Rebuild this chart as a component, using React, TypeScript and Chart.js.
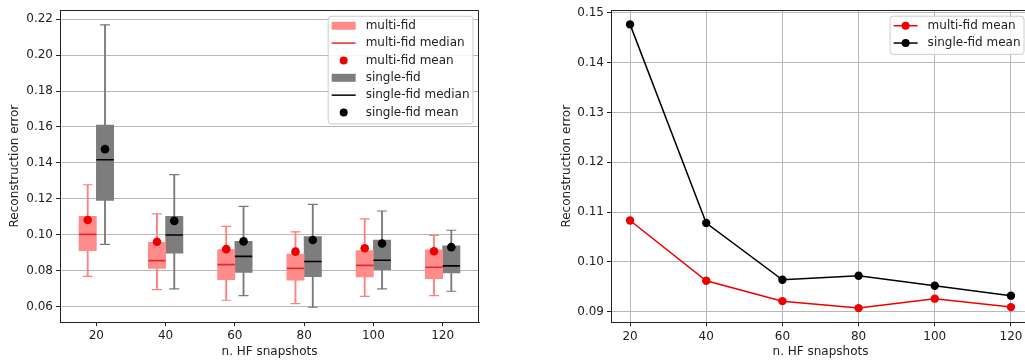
import React, { useEffect, useRef } from "react";
import { Chart, registerables } from "chart.js";

Chart.register(...registerables);

// ---------------- data ----------------
const snapshots = [20, 40, 60, 80, 100, 120];

const multiWhiskerLow = [0.077, 0.0696, 0.0637, 0.0618, 0.0659, 0.0663];
const multiQ1 = [0.0913, 0.0814, 0.0752, 0.0748, 0.0767, 0.0757];
const multiMedian = [0.1003, 0.0857, 0.0835, 0.0814, 0.0831, 0.082];
const multiQ3 = [0.1103, 0.0959, 0.0918, 0.0894, 0.0913, 0.0917];
const multiWhiskerHigh = [0.1279, 0.1117, 0.1048, 0.1017, 0.1089, 0.0998];
const multiMean = [0.1083, 0.0962, 0.0921, 0.0907, 0.0926, 0.0909];

const singleWhiskerLow = [0.0948, 0.07, 0.0663, 0.0598, 0.07, 0.0687];
const singleQ1 = [0.1192, 0.0898, 0.0791, 0.0768, 0.0807, 0.0789];
const singleMedian = [0.1418, 0.1, 0.0881, 0.0852, 0.0859, 0.0828];
const singleQ3 = [0.1611, 0.1103, 0.0964, 0.0991, 0.0972, 0.0939];
const singleWhiskerHigh = [0.2168, 0.1335, 0.1159, 0.117, 0.1133, 0.1026];
const singleMean = [0.1477, 0.1078, 0.0964, 0.0972, 0.0952, 0.0932];

const xTickValues = [20, 40, 60, 80, 100, 120];
const leftYTickValues = [0.06, 0.08, 0.1, 0.12, 0.14, 0.16, 0.18, 0.2, 0.22];
const rightYTickValues = [0.09, 0.1, 0.11, 0.12, 0.13, 0.14, 0.15];

const leftLegendLabels = [
  "multi-fid",
  "multi-fid median",
  "multi-fid mean",
  "single-fid",
  "single-fid median",
  "single-fid mean",
];
const rightLegendLabels = ["multi-fid mean", "single-fid mean"];

const xTitle = "n. HF snapshots";
const yTitle = "Reconstruction error";

// ---------------- style ----------------
const FAMILY = "'DejaVu Sans', 'Liberation Sans', sans-serif";
const FONT = { family: FAMILY, size: 12 };
const TEXT = "#222222";
const GRID = "#b8b8b8";
const RED = "#ee0000";
const MULTI_BOX = "#ff8c8a";
const MULTI_WHISKER = "#ff8080";
const MULTI_MEDIAN = "#e32a2a";
const SINGLE_BOX = "#7d7d7d";
const SINGLE_WHISKER = "#7a7a7a";
const BOX_SHIFT = 2.5;

// ---------------- plugins ----------------
const framePlugin = {
  id: "frame",
  afterDatasetsDraw(chart: any) {
    const { ctx, chartArea: a } = chart;
    ctx.save();
    ctx.strokeStyle = TEXT;
    ctx.lineWidth = 1;
    const l = Math.round(a.left);
    const t = Math.round(a.top) + 0.5;
    const r = Math.round(a.right) - 0.5;
    const b = Math.round(a.bottom);
    ctx.beginPath();
    ctx.moveTo(l, t);
    ctx.lineTo(r, t);
    ctx.lineTo(r, b);
    ctx.stroke();
    ctx.restore();
  },
};

type LegendEntry = { label: string; kind: string; color: string };

function roundRectPath(ctx: any, x: number, y: number, w: number, h: number, r: number) {
  ctx.beginPath();
  ctx.moveTo(x + r, y);
  ctx.lineTo(x + w - r, y);
  ctx.arcTo(x + w, y, x + w, y + r, r);
  ctx.lineTo(x + w, y + h - r);
  ctx.arcTo(x + w, y + h, x + w - r, y + h, r);
  ctx.lineTo(x + r, y + h);
  ctx.arcTo(x, y + h, x, y + h - r, r);
  ctx.lineTo(x, y + r);
  ctx.arcTo(x, y, x + r, y, r);
  ctx.closePath();
}

function makeLegendPlugin(id: string, entries: LegendEntry[]) {
  return {
    id,
    afterDraw(chart: any) {
      const { ctx, chartArea: a } = chart;
      ctx.save();
      ctx.font = `12px ${FAMILY}`;
      const textW = Math.max(...entries.map((e) => ctx.measureText(e.label).width));
      const rowH = 17.35;
      const w = 38 + textW + 3;
      const h = entries.length * rowH + 3.5;
      const right = a.right - 6.5;
      const left = right - w;
      const top = a.top + 5.5;
      roundRectPath(ctx, left + 0.5, top + 0.5, w, h, 3);
      ctx.fillStyle = "rgba(255,255,255,0.85)";
      ctx.fill();
      ctx.strokeStyle = "#cccccc";
      ctx.lineWidth = 1;
      ctx.stroke();
      entries.forEach((e, i) => {
        const cy = top + 10 + i * rowH;
        const hx0 = left + 4;
        const hx1 = left + 28;
        const hc = left + 16;
        if (e.kind === "patch") {
          ctx.fillStyle = e.color;
          ctx.fillRect(hx0, cy - 4, hx1 - hx0, 8);
        }
        if (e.kind === "line" || e.kind === "linedot") {
          ctx.strokeStyle = e.color;
          ctx.lineWidth = 1.5;
          ctx.beginPath();
          ctx.moveTo(hx0, cy);
          ctx.lineTo(hx1, cy);
          ctx.stroke();
        }
        if (e.kind === "dot" || e.kind === "linedot") {
          ctx.fillStyle = e.color;
          ctx.beginPath();
          ctx.arc(hc, cy, 4, 0, Math.PI * 2);
          ctx.fill();
        }
        ctx.fillStyle = TEXT;
        ctx.textBaseline = "middle";
        ctx.textAlign = "left";
        ctx.fillText(e.label, left + 38, cy);
      });
      ctx.restore();
    },
  };
}

// ---------------- helpers ----------------
function axisX(min: number, max: number, height: number, gridOnArea: boolean) {
  return {
    type: "linear",
    min,
    max,
    offset: false,
    afterBuildTicks: (s: any) => {
      s.ticks = xTickValues.map((v) => ({ value: v }));
    },
    afterFit: (s: any) => {
      s.height = height;
    },
    grid: {
      display: true,
      offset: false,
      drawOnChartArea: gridOnArea,
      drawTicks: true,
      tickLength: 4,
      tickColor: TEXT,
      color: GRID,
      lineWidth: 1,
    },
    border: { display: true, color: TEXT, width: 1 },
    ticks: {
      color: TEXT,
      font: FONT,
      padding: 3,
      maxRotation: 0,
      autoSkip: false,
      callback: (v: any) => String(v),
    },
    title: {
      display: true,
      text: xTitle,
      color: TEXT,
      font: FONT,
      padding: { top: 0, bottom: 1 },
    },
  };
}

function axisY(min: number, max: number, ticks: number[], width: number, titlePad: number) {
  return {
    type: "linear",
    min,
    max,
    afterBuildTicks: (s: any) => {
      s.ticks = ticks.map((v) => ({ value: v }));
    },
    afterFit: (s: any) => {
      s.width = width;
    },
    grid: {
      display: true,
      drawTicks: true,
      tickLength: 4,
      tickColor: TEXT,
      color: GRID,
      lineWidth: 1,
    },
    border: { display: true, color: TEXT, width: 1 },
    ticks: {
      color: TEXT,
      font: FONT,
      padding: 3,
      autoSkip: false,
      callback: (v: any) => Number(v).toFixed(2),
    },
    title: {
      display: true,
      text: yTitle,
      color: TEXT,
      font: FONT,
      padding: { top: titlePad, bottom: 0 },
    },
  };
}

// ---------------- left chart ----------------
function BoxChart() {
  const ref = useRef<HTMLCanvasElement>(null);
  useEffect(() => {
    const multiX = snapshots.map((s) => s - BOX_SHIFT);
    const singleX = snapshots.map((s) => s + BOX_SHIFT);
    const barCommon = {
      type: "bar",
      grouped: false,
      barPercentage: 1,
      categoryPercentage: 1,
      borderWidth: 0,
    };
    const datasets: any[] = [
      {
        ...barCommon,
        label: "multi whisker",
        order: 10,
        maxBarThickness: 1.2,
        backgroundColor: MULTI_WHISKER,
        data: multiX.map((x, i) => ({ x, y: [multiWhiskerLow[i], multiWhiskerHigh[i]] })),
      },
      {
        ...barCommon,
        label: "single whisker",
        order: 10,
        maxBarThickness: 1.2,
        backgroundColor: SINGLE_WHISKER,
        data: singleX.map((x, i) => ({ x, y: [singleWhiskerLow[i], singleWhiskerHigh[i]] })),
      },
      {
        ...barCommon,
        label: leftLegendLabels[0],
        order: 8,
        backgroundColor: MULTI_BOX,
        data: multiX.map((x, i) => ({ x, y: [multiQ1[i], multiQ3[i]] })),
      },
      {
        ...barCommon,
        label: leftLegendLabels[3],
        order: 8,
        backgroundColor: SINGLE_BOX,
        data: singleX.map((x, i) => ({ x, y: [singleQ1[i], singleQ3[i]] })),
      },
      {
        type: "scatter",
        label: "multi caps",
        order: 6,
        pointStyle: "line",
        pointRadius: 5,
        pointBorderWidth: 1.2,
        borderColor: MULTI_WHISKER,
        pointBorderColor: MULTI_WHISKER,
        data: multiX.flatMap((x, i) => [
          { x, y: multiWhiskerLow[i] },
          { x, y: multiWhiskerHigh[i] },
        ]),
      },
      {
        type: "scatter",
        label: "single caps",
        order: 6,
        pointStyle: "line",
        pointRadius: 5,
        pointBorderWidth: 1.2,
        borderColor: SINGLE_WHISKER,
        pointBorderColor: SINGLE_WHISKER,
        data: singleX.flatMap((x, i) => [
          { x, y: singleWhiskerLow[i] },
          { x, y: singleWhiskerHigh[i] },
        ]),
      },
      {
        type: "scatter",
        label: leftLegendLabels[1],
        order: 4,
        pointStyle: "line",
        pointRadius: 8.65,
        pointBorderWidth: 1.6,
        borderColor: MULTI_MEDIAN,
        pointBorderColor: MULTI_MEDIAN,
        data: multiX.map((x, i) => ({ x, y: multiMedian[i] })),
      },
      {
        type: "scatter",
        label: leftLegendLabels[4],
        order: 4,
        pointStyle: "line",
        pointRadius: 8.65,
        pointBorderWidth: 1.6,
        borderColor: "#000000",
        pointBorderColor: "#000000",
        data: singleX.map((x, i) => ({ x, y: singleMedian[i] })),
      },
      {
        type: "scatter",
        label: leftLegendLabels[2],
        order: 2,
        pointStyle: "circle",
        pointRadius: 4.3,
        pointBorderWidth: 0,
        backgroundColor: RED,
        pointBackgroundColor: RED,
        data: multiX.map((x, i) => ({ x, y: multiMean[i] })),
      },
      {
        type: "scatter",
        label: leftLegendLabels[5],
        order: 2,
        pointStyle: "circle",
        pointRadius: 4.3,
        pointBorderWidth: 0,
        backgroundColor: "#000000",
        pointBackgroundColor: "#000000",
        data: singleX.map((x, i) => ({ x, y: singleMean[i] })),
      },
    ];
    const legendEntries: LegendEntry[] = [
      { label: leftLegendLabels[0], kind: "patch", color: MULTI_BOX },
      { label: leftLegendLabels[1], kind: "line", color: MULTI_MEDIAN },
      { label: leftLegendLabels[2], kind: "dot", color: RED },
      { label: leftLegendLabels[3], kind: "patch", color: SINGLE_BOX },
      { label: leftLegendLabels[4], kind: "line", color: "#000000" },
      { label: leftLegendLabels[5], kind: "dot", color: "#000000" },
    ];
    const chart = new Chart(ref.current as HTMLCanvasElement, {
      type: "bar",
      data: { datasets },
      options: {
        responsive: false,
        animation: false,
        devicePixelRatio: 1,
        events: [],
        layout: { padding: { top: 9, right: 21, left: 0, bottom: 0 } },
        plugins: { legend: { display: false }, tooltip: { enabled: false } },
        scales: {
          x: axisX(9.5, 130.5, 38, false),
          y: axisY(0.0516, 0.2249, leftYTickValues, 60, 8),
        },
      } as any,
      plugins: [framePlugin, makeLegendPlugin("leftLegend", legendEntries)],
    } as any);
    return () => chart.destroy();
  }, []);
  return (
    <canvas
      ref={ref}
      width={500}
      height={360}
      style={{ position: "absolute", left: 0, top: 0, width: 500, height: 360 }}
    />
  );
}

// ---------------- right chart ----------------
function MeanChart() {
  const ref = useRef<HTMLCanvasElement>(null);
  useEffect(() => {
    const lineCommon = {
      type: "line",
      borderWidth: 1.5,
      pointRadius: 4.2,
      pointBorderWidth: 0,
      tension: 0,
      fill: false,
    };
    const datasets: any[] = [
      {
        ...lineCommon,
        label: rightLegendLabels[0],
        borderColor: RED,
        backgroundColor: RED,
        pointBackgroundColor: RED,
        data: snapshots.map((x, i) => ({ x, y: multiMean[i] })),
      },
      {
        ...lineCommon,
        label: rightLegendLabels[1],
        borderColor: "#000000",
        backgroundColor: "#000000",
        pointBackgroundColor: "#000000",
        data: snapshots.map((x, i) => ({ x, y: singleMean[i] })),
      },
    ];
    const legendEntries: LegendEntry[] = [
      { label: rightLegendLabels[0], kind: "linedot", color: RED },
      { label: rightLegendLabels[1], kind: "linedot", color: "#000000" },
    ];
    const chart = new Chart(ref.current as HTMLCanvasElement, {
      type: "line",
      data: { datasets },
      options: {
        responsive: false,
        animation: false,
        devicePixelRatio: 1,
        events: [],
        layout: { padding: { top: 9.7, right: 10, left: 0, bottom: 0 } },
        plugins: { legend: { display: false }, tooltip: { enabled: false } },
        scales: {
          x: axisX(15, 125, 37.7, true),
          y: axisY(0.08785, 0.15055, rightYTickValues, 61, 9.5),
        },
      } as any,
      plugins: [framePlugin, makeLegendPlugin("rightLegend", legendEntries)],
    } as any);
    return () => chart.destroy();
  }, []);
  return (
    <canvas
      ref={ref}
      width={490}
      height={360}
      style={{ position: "absolute", left: 550, top: 0, width: 490, height: 360 }}
    />
  );
}

export default function App() {
  return (
    <div
      style={{
        position: "fixed",
        left: 0,
        top: 0,
        width: 1025,
        height: 360,
        overflow: "hidden",
        background: "#ffffff",
      }}
    >
      <BoxChart />
      <MeanChart />
    </div>
  );
}
